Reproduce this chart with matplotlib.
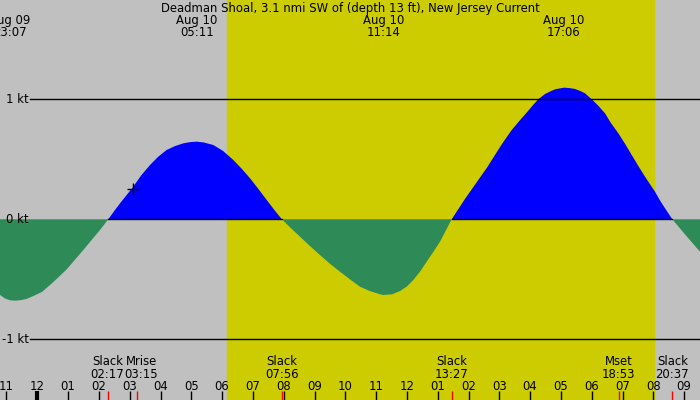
import matplotlib
matplotlib.use('Agg')
import matplotlib.pyplot as plt
import numpy as np

plt.rcParams['font.family'] = 'DejaVu Sans'
plt.rcParams['font.size'] = 8.4

# --- data (hours from Aug 10 00:00, speed in knots) ---
flow_hours = [-1.211, -1.049, -0.886, -0.724, -0.562, -0.367, -0.130, 0.153, 0.412, 0.672,
              0.955, 1.494, 2.036, 2.305, 2.490, 2.685, 2.910, 3.117, 3.370, 3.659,
              3.920, 4.201, 4.470, 4.740, 4.960, 5.175, 5.410, 5.714, 6.030, 6.364,
              6.640, 6.906, 7.170, 7.448, 7.690, 7.940, 8.240, 8.529, 8.850, 9.178,
              9.500, 9.828, 10.150, 10.477, 10.800, 11.127, 11.233, 11.520, 11.776, 12.000,
              12.208, 12.430, 12.643, 12.850, 13.075, 13.270, 13.455, 13.887, 14.318, 14.600,
              14.860, 15.120, 15.403, 15.670, 15.942, 16.090, 16.266, 16.484, 16.650, 16.808,
              17.100, 17.295, 17.458, 17.620, 17.782, 18.000, 18.200, 18.432, 18.630, 18.864,
              19.080, 19.299, 19.500, 19.731, 20.055, 20.210, 20.380, 20.617, 21.060, 21.516]
flow_knots = [-0.63, -0.66, -0.675, -0.678, -0.675, -0.665, -0.64, -0.605, -0.548, -0.487,
              -0.417, -0.256, -0.089, 0.0, 0.066, 0.133, 0.205, 0.272, 0.365, 0.452,
              0.52, 0.578, 0.61, 0.633, 0.643, 0.647, 0.64, 0.619, 0.57, 0.494,
              0.42, 0.342, 0.255, 0.161, 0.08, 0.0, -0.075, -0.145, -0.222, -0.298,
              -0.37, -0.437, -0.50, -0.562, -0.598, -0.625, -0.631, -0.625, -0.598, -0.56,
              -0.506, -0.435, -0.353, -0.275, -0.187, -0.09, 0.0, 0.17, 0.3275, 0.43,
              0.536, 0.64, 0.744, 0.825, 0.905, 0.95, 1.0, 1.044, 1.065, 1.083,
              1.097, 1.093, 1.086, 1.07, 1.05, 1.0, 0.95, 0.883, 0.80, 0.717,
              0.63, 0.536, 0.45, 0.355, 0.23, 0.16, 0.092, 0.0, -0.135, -0.27]

max_hours = [-0.883, 5.183, 11.233, 17.1]
max_dates = ['Aug 09', 'Aug 10', 'Aug 10', 'Aug 10']
max_times = ['23:07', '05:11', '11:14', '17:06']

slack_hours = [2.283, 7.933, 13.45, 20.617]
slack_times = ['02:17', '07:56', '13:27', '20:37']

moon_hours = [3.25, 18.883]
moon_names = ['Mrise', 'Mset']
moon_times = ['03:15', '18:53']

sunrise, sunset = 6.15, 20.02
marker_hour, marker_knots = 3.117, 0.25

hour_ticks = list(range(-1, 22))
hour_labels = ['%02d' % ((h % 12) or 12) for h in hour_ticks]

TITLE = 'Deadman Shoal, 3.1 nmi SW of (depth 13 ft), New Jersey Current'

# --- figure ---
fig = plt.figure(figsize=(7, 4), dpi=100, facecolor='#c0c0c0')
ax = fig.add_axes([0, 0, 1, 1])
ax.set_xlim(-1.211, 21.516)
ax.set_ylim(-1.506, 1.8275)
ax.axis('off')

ax.axvspan(sunrise, sunset, color='#cccc00', zorder=0)

t = np.array(flow_hours)
v = np.array(flow_knots)
ax.fill_between(t, 0, v, where=v >= 0, interpolate=True, color='#0000ff', lw=0, zorder=2)
ax.fill_between(t, 0, v, where=v <= 0, interpolate=True, color='#2e8b57', lw=0, zorder=2)

# zero line only under the flood part
zero = np.where(v >= 0, 0.0, np.nan)
ax.plot(t, zero, color='black', lw=1, zorder=3)
for lev in (1, -1):
    ax.axhline(lev, xmin=30 / 700, xmax=1, color='black', lw=1, zorder=3)

for lev, lab in [(1, '1 kt'), (0, '0 kt'), (-1, '-1 kt')]:
    ax.text(28.5 / 700, lev, lab, transform=ax.get_yaxis_transform(),
            ha='right', va='center', zorder=5)

ax.plot(marker_hour, marker_knots, marker='+', color='black', ms=8, mew=1, zorder=5)

xt = ax.get_xaxis_transform()

# title and max current labels
ax.text(0.5, 0.969, TITLE, transform=ax.transAxes, ha='center', va='baseline')
for h, d, tm in zip(max_hours, max_dates, max_times):
    ax.text(h, 0.94, d, transform=xt, ha='center', va='baseline')
    ax.text(h, 0.91, tm, transform=xt, ha='center', va='baseline')

# bottom event labels
for h, tm in zip(slack_hours, slack_times):
    ax.text(h, 0.0875, 'Slack', transform=xt, ha='center', va='baseline')
    ax.text(h, 0.0555, tm, transform=xt, ha='center', va='baseline')
moon_shift = [0.12, 0.0]
for h, nm, tm, s in zip(moon_hours, moon_names, moon_times, moon_shift):
    ax.text(h + s, 0.0875, nm, transform=xt, ha='center', va='baseline')
    ax.text(h + s, 0.0555, tm, transform=xt, ha='center', va='baseline')

# hour ticks
for h, lab in zip(hour_ticks, hour_labels):
    ax.text(h, 0.025, lab, transform=xt, ha='center', va='baseline')
    ax.vlines(h, 0, 0.0215, transform=xt, color='black', lw=3 if h == 0 else 1, zorder=4)

for h in slack_hours + moon_hours:
    ax.vlines(h, 0, 0.0225, transform=xt, color='red', lw=1, zorder=4)

fig.savefig('out.png', dpi=100)
